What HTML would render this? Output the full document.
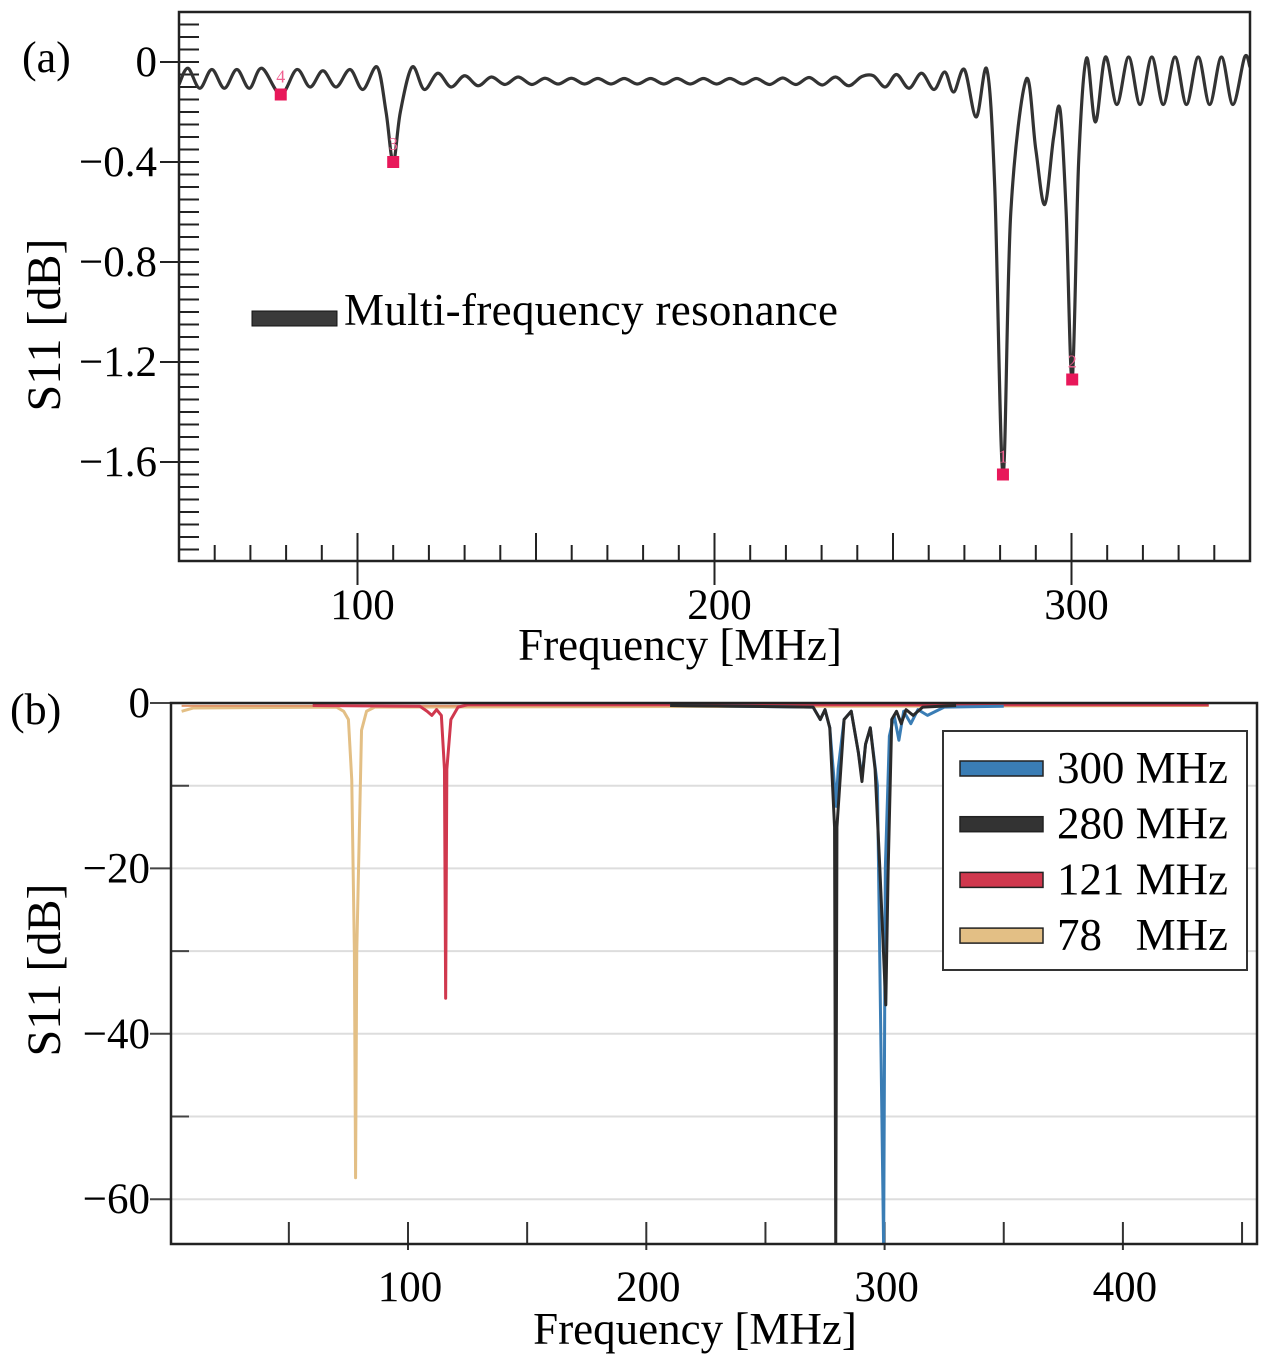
<!DOCTYPE html>
<html><head><meta charset="utf-8"><style>
html,body{margin:0;padding:0;background:#fff}
svg{display:block;font-family:"Liberation Serif",serif}
</style></head><body>
<svg id="fig" width="1273" height="1365" viewBox="0 0 1273 1365">
<text x="22" y="72" font-size="44">(a)</text>
<text x="10" y="724" font-size="44">(b)</text>
<g id="pa"></g>
<g id="pb"></g>
</svg>
<script>
// ---------- Chart (a) data ----------
const aFreq = [50,52.5,55.8,59.2,62.7,66.2,69.7,73.2,78.5,83,86.7,90.3,94,97.9,101.5,105.5,108,110,112,115.3,118.7,122.5,126.2,130,133.8,137.5,141.3,145,148.8,152.5,156.2,159.9,163.6,167.3,171,174.7,178.4,182.1,185.8,189.5,193.2,196.9,200.6,204.3,208,211.7,215.4,219.1,222.8,226.5,230.2,233.9,237.6,241.3,244.5,247.8,251,254.5,258,261.5,264.5,267,270,273.3,276.3,278.5,280.8,283,287.3,290,292.5,295,296.8,298.5,300.2,302,304.2,306.7,309.5,312.7,316,319.2,322.5,325.7,329,332.2,335.5,338.7,342,345.2,348.5,350];
const aS11 = [-0.09,-0.025,-0.105,-0.03,-0.105,-0.03,-0.105,-0.025,-0.13,-0.03,-0.1,-0.035,-0.1,-0.03,-0.11,-0.02,-0.2,-0.4,-0.2,-0.02,-0.11,-0.045,-0.1,-0.055,-0.095,-0.06,-0.09,-0.06,-0.09,-0.065,-0.088,-0.065,-0.088,-0.066,-0.088,-0.066,-0.088,-0.066,-0.088,-0.066,-0.088,-0.066,-0.088,-0.066,-0.088,-0.066,-0.09,-0.064,-0.09,-0.062,-0.092,-0.06,-0.095,-0.058,-0.055,-0.1,-0.05,-0.105,-0.045,-0.11,-0.04,-0.12,-0.03,-0.22,-0.03,-0.5,-1.65,-0.6,-0.07,-0.35,-0.57,-0.3,-0.19,-0.6,-1.27,-0.4,0.015,-0.24,0.02,-0.17,0.02,-0.17,0.02,-0.17,0.02,-0.17,0.02,-0.17,0.02,-0.17,0.02,-0.02];
const aMarkF = [78.5,110,280.8,300.2];
const aMarkV = [-0.13,-0.4,-1.65,-1.27];
const aMarkL = ["4","3","1","2"];
const aYTicks = [0,-0.4,-0.8,-1.2,-1.6];
const aXTicks = [100,200,300];

// ---------- Chart (b) data ----------
const bXTicks = [100,200,300,400];
const bYTicks = [0,-20,-40,-60];
const tanF = [5,10,70,73,75,76.4,77.5,78,78.5,80.5,82.6,86,436];
const tanV = [-1,-0.6,-0.5,-1,-2,-9.3,-30,-57.4,-30,-3.3,-1,-0.5,-0.3];
const redF = [60,105,108,110,112,114,115.3,115.8,116.3,118,121,125,436];
const redV = [-0.3,-0.4,-1,-1.5,-0.8,-1.5,-8,-35.7,-8,-2,-0.5,-0.2,-0.2];
const blkF = [210,270,273,275,277,279,279.5,280,283,286,289,290.5,292,294,296,298,300.5,301.5,303,305,307,309,312,316,330];
const blkV = [-0.3,-0.5,-2,-0.8,-3,-15,-66,-15,-2,-1,-6,-9.5,-5,-3,-8,-20,-36.5,-20,-2,-1,-2.5,-0.8,-1.5,-0.5,-0.3];
const bluF = [210,270,273,275,277,279,279.7,280.5,283,286,289,290.5,292,294,297,299.6,300.3,302,304,306,308,311,314,318,325,350];
const bluV = [-0.3,-0.5,-2,-0.8,-3,-10,-12.5,-8,-2,-1,-6,-9,-5,-3,-10,-66,-20,-4,-1.5,-4.5,-1,-2.5,-0.8,-1.5,-0.5,-0.4];
const legLabels = ["300 MHz","280 MHz","121 MHz","78\u00a0\u00a0\u00a0MHz"];
const legColors = ["#3a7db5","#333333","#d0384e","#e3bf85"];

const NS="http://www.w3.org/2000/svg";
function mk(p,t,a,txt){const e=document.createElementNS(NS,t);for(const k in a)e.setAttribute(k,a[k]);if(txt!==undefined)e.textContent=txt;p.appendChild(e);return e;}
function smooth(pts){let d=`M${pts[0][0]},${pts[0][1]}`;for(let i=0;i<pts.length-1;i++){const p0=pts[Math.max(0,i-1)],p1=pts[i],p2=pts[i+1],p3=pts[Math.min(pts.length-1,i+2)];const c1x=p1[0]+(p2[0]-p0[0])/6,c1y=p1[1]+(p2[1]-p0[1])/6,c2x=p2[0]-(p3[0]-p1[0])/6,c2y=p2[1]-(p3[1]-p1[1])/6;d+=`C${c1x},${c1y} ${c2x},${c2y} ${p2[0]},${p2[1]}`;}return d;}
const MINUS='\u2212';

// ---------- Chart (a) ----------
(function(){
const g=document.getElementById('pa');
const L=179,R=1250,T=12,B=561;
const xS=f=>L+(f-50)*(R-L)/300;
const yS=v=>62-v*250;
const cp=mk(g,'clipPath',{id:'ca'});mk(cp,'rect',{x:L,y:T,width:R-L,height:B-T});
for(let k=0;k<=44;k++){const v=0.2-k*0.05;const y=yS(v);if(y<T||y>B+0.5)continue;
 const major=Math.abs(Math.round(v/0.4)*0.4-v)<1e-6;
 const t=mk(g,'line',{x1:major?160:L,x2:L+20,y1:y,y2:y,stroke:'#222','stroke-width':2});
 
 }
aYTicks.forEach(v=>{const t=mk(g,'text',{x:157,y:yS(v)+14,'font-size':43,'text-anchor':'end'},v===0?'0':MINUS+Math.abs(v).toFixed(1));
 
 });
for(let f=50;f<=350;f+=10){const x=xS(f);const mj=f%50===0;
 const t=mk(g,'line',{x1:x,x2:x,y1:mj?B-28:B-16,y2:(f%100===0)?B+24:B,stroke:'#222','stroke-width':2});
 
 }
aXTicks.forEach(f=>{const t=mk(g,'text',{x:xS(f)+5,y:619,'font-size':43,'text-anchor':'middle'},String(f));
 
 });
const pts=aFreq.map((f,i)=>[xS(f),yS(aS11[i])]);
const c=mk(g,'path',{d:smooth(pts),fill:'none',stroke:'#333','stroke-width':3.2,'clip-path':'url(#ca)'});


aMarkF.forEach((f,i)=>{const x=xS(f),y=yS(aMarkV[i]);
 const m=mk(g,'rect',{x:x-6,y:y-6,width:12,height:12,fill:'#e8185a'});
 
 
 const l=mk(g,'text',{x:x,y:y-12,'font-size':18,fill:'#f06090','text-anchor':'middle'},aMarkL[i]);
 
 });
const fr=mk(g,'rect',{x:L,y:T,width:R-L,height:B-T,fill:'none',stroke:'#222','stroke-width':2.5});


const ls=mk(g,'rect',{x:252,y:311,width:85,height:15,fill:'#3a3a3a',stroke:'#111','stroke-width':1});


const lt=mk(g,'text',{x:344,y:325,'font-size':45,textLength:494},'Multi-frequency resonance');


const yt=mk(g,'text',{x:0,y:0,'font-size':48,'text-anchor':'middle',transform:'translate(60,325) rotate(-90)'},'S11 [dB]');


const xt=mk(g,'text',{x:680,y:660,'font-size':45,'text-anchor':'middle'},'Frequency [MHz]');


})();

// ---------- Chart (b) ----------
(function(){
const g=document.getElementById('pb');
const L=171,R=1257,T=703,B=1244;
const xS=f=>408+(f-100)*2.383;
const yS=v=>703-v*8.27;
const cp=mk(g,'clipPath',{id:'cb'});mk(cp,'rect',{x:L,y:T,width:R-L,height:B-T});
for(let v=-10;v>=-60;v-=10){const gl=mk(g,'line',{x1:L,x2:R,y1:yS(v),y2:yS(v),stroke:'#ddd','stroke-width':2});
 
 }
for(let v=0;v>=-65;v-=10){const y=yS(v);const mj=v%20===0;
 const t=mk(g,'line',{x1:mj?150:L,x2:L+(mj?0:18),y1:y,y2:y,stroke:'#444','stroke-width':2});
 
 }
bYTicks.forEach(v=>{const t=mk(g,'text',{x:150,y:yS(v)+14,'font-size':43,'text-anchor':'end'},v===0?'0':MINUS+Math.abs(v));
 
 });
for(let f=50;f<=450;f+=50){const x=xS(f);
 const t=mk(g,'line',{x1:x,x2:x,y1:B-22,y2:f%100===0?B+6:B,stroke:'#333','stroke-width':2});
 
 }
bXTicks.forEach(f=>{const t=mk(g,'text',{x:xS(f)+2,y:1301,'font-size':43,'text-anchor':'middle'},String(f));
 
 });
function series(F,V,col,name){const p=mk(g,'polyline',{points:F.map((f,i)=>xS(f)+','+yS(V[i])).join(' '),fill:'none',stroke:col,'stroke-width':3,'stroke-linejoin':'round','clip-path':'url(#cb)'});
 
 }
series(tanF,tanV,'#e3bf85','series-78mhz');
const ol=mk(g,'line',{x1:xS(5),x2:xS(436),y1:yS(-0.35),y2:yS(-0.35),stroke:'#e0946a','stroke-width':2,'clip-path':'url(#cb)'});


series(redF,redV,'#d0384e','series-121mhz');
series(bluF,bluV,'#3a7db5','series-300mhz');
series(blkF,blkV,'#2a2a2a','series-280mhz');
const fr=mk(g,'rect',{x:L,y:T,width:R-L,height:B-T,fill:'none',stroke:'#222','stroke-width':2.5});


const lb=mk(g,'rect',{x:943,y:731,width:304,height:239,fill:'#fff',stroke:'#333','stroke-width':2});


legLabels.forEach((s,i)=>{const cy=768+i*55.7;
 const sw=mk(g,'rect',{x:960,y:cy-7,width:83,height:15,fill:legColors[i],stroke:'#222','stroke-width':1.5});
 
 
 const t=mk(g,'text',{x:1057,y:cy+15,'font-size':45,textLength:171},s);
 
 });
const yt=mk(g,'text',{x:0,y:0,'font-size':48,'text-anchor':'middle',transform:'translate(60,970) rotate(-90)'},'S11 [dB]');


const xt=mk(g,'text',{x:695,y:1344,'font-size':45,'text-anchor':'middle'},'Frequency [MHz]');


})();
</script>
</body></html>
